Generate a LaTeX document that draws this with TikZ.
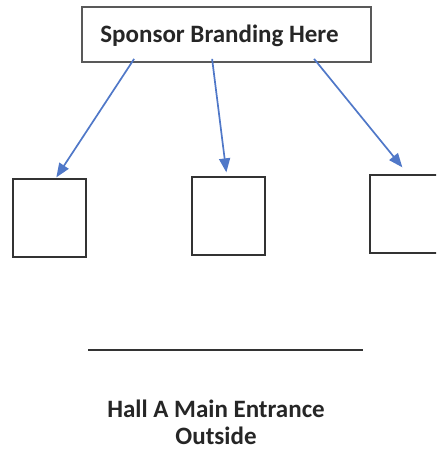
\documentclass[tikz,border=0pt]{standalone}
\usepackage{fontspec}
\setmainfont{Carlito}
\usetikzlibrary{arrows.meta}
\begin{document}
\begin{tikzpicture}[x=1pt,y=-1pt,
  boxstyle/.style={draw=black!80,line width=1.3pt,inner sep=0pt,fill=white},
  arrowstyle/.style={draw={rgb,255:red,80;green,120;blue,200},line width=1.7pt,-{Triangle[length=14pt,width=11pt]}},
  lbl/.style={font=\bfseries\fontsize{25}{27}\selectfont,text=black!85,align=center}]
\useasboundingbox (0,0) rectangle (436,452);
\clip (0,0) rectangle (436,452);
\node[boxstyle,minimum width=289pt,minimum height=55pt,draw=black!65,line width=1.8pt] (top) at (226.5,34.5) {};
\node[lbl] at ([xshift=-7pt,yshift=-1pt]top.center) {Sponsor Branding Here};
\node[boxstyle,minimum width=73pt,minimum height=78pt] (b1) at (49.5,218) {};
\node[boxstyle,minimum width=73pt,minimum height=78pt] (b2) at (228.5,216) {};
\node[boxstyle,minimum width=73pt,minimum height=78pt] (b3) at (406.5,214) {};
\draw[arrowstyle] ([xshift=53pt,yshift=4pt]top.south west) -- ([xshift=44pt,yshift=1pt]b1.north west);
\draw[arrowstyle] ([xshift=131pt,yshift=4pt]top.south west) -- ([xshift=35pt,yshift=4pt]b2.north west);
\draw[arrowstyle] ([xshift=233pt,yshift=4pt]top.south west) -- ([xshift=33pt,yshift=7pt]b3.north west);
\coordinate (l1) at (88,350);
\coordinate (l2) at (363,350);
\draw[line width=1.5pt,black!80] (l1) -- (l2);
\node[lbl] (entr) at (216,422) {Hall A Main Entrance\\Outside};
\end{tikzpicture}
\end{document}
